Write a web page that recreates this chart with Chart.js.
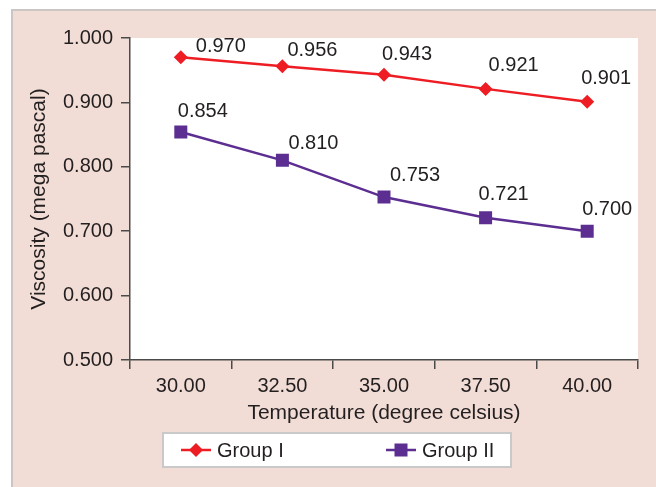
<!DOCTYPE html>
<html>
<head>
<meta charset="utf-8">
<script src="https://cdn.jsdelivr.net/npm/chart.js@4.4.0/dist/chart.umd.min.js"></script>
<style>
    html, body { margin: 0; padding: 0; background: #fff; }
    #panel {
        position: absolute; left: 11px; top: 9px; width: 700px; height: 500px;
        background: #f1ddd5; border-left: 2px solid #cbc6c4; border-top: 2px solid #cbc6c4;
    }
    #wrap { position: absolute; left: 0; top: 0; width: 656px; height: 487px; }
</style>
</head>
<body>
<div id="panel"></div>
<div id="wrap"><canvas id="visc" width="656" height="487"></canvas></div>
<script>
/* ---------- datos ---------- */
const TEMPERATURAS = ["30.00", "32.50", "35.00", "37.50", "40.00"];
const GRUPO_I = [0.970, 0.956, 0.943, 0.921, 0.901];
const GRUPO_II = [0.854, 0.810, 0.753, 0.721, 0.700];
const Y_MIN = 0.5;
const Y_MAX = 1.0;
const Y_PASO = 0.1;

/* desplazamiento de cada etiqueta respecto a su punto (px) */
const NUDGE_I = [[40, -11], [30, -16], [23, -20], [28, -23], [19, -23]];
const NUDGE_II = [[22, -21], [31, -17], [31, -22], [18, -23], [20, -22]];

const FUENTE = "'Liberation Sans', Arial, Helvetica, sans-serif";
const TEXTO = "#231f20";
const EJE = "#4a4a4a";
const ROJO = "#ee1d23";
const MORADO = "#5c2e91";

Chart.defaults.font.family = FUENTE;
Chart.defaults.font.size = 20;
Chart.defaults.color = TEXTO;

/* fondo blanco del área de trazado */
const fondoArea = {
    id: "fondoArea",
    beforeDraw(chart) {
        const { ctx, chartArea: a } = chart;
        ctx.save();
        ctx.fillStyle = "#fff";
        ctx.fillRect(a.left, a.top, a.right - a.left, a.bottom - a.top);
        ctx.restore();
    }
};

/* etiquetas de valor junto a cada punto */
const etiquetas = {
    id: "etiquetas",
    afterDatasetsDraw(chart) {
        const ctx = chart.ctx;
        const nudges = [NUDGE_I, NUDGE_II];
        ctx.save();
        ctx.font = "20px " + FUENTE;
        ctx.fillStyle = TEXTO;
        ctx.textAlign = "center";
        ctx.textBaseline = "middle";
        chart.data.datasets.forEach((ds, di) => {
            const meta = chart.getDatasetMeta(di);
            meta.data.forEach((pt, i) => {
                const [dx, dy] = nudges[di][i];
                ctx.fillText(ds.data[i].toFixed(3), pt.x + dx, pt.y + dy);
            });
        });
        ctx.restore();
    }
};

/* leyenda con marco, como en el original */
const leyenda = {
    id: "leyenda",
    afterDraw(chart) {
        const ctx = chart.ctx;
        const box = { x: 163, y: 433, w: 348, h: 34 };
        const xs = [181, 386];
        const cy = box.y + box.h / 2;
        ctx.save();
        ctx.fillStyle = "#fff";
        ctx.fillRect(box.x, box.y, box.w, box.h);
        ctx.strokeStyle = "#c9c9c9";
        ctx.lineWidth = 2;
        ctx.strokeRect(box.x, box.y, box.w, box.h);

        chart.data.datasets.forEach((ds, di) => {
            const x0 = xs[di];
            const cx = x0 + 15;
            ctx.strokeStyle = ds.borderColor;
            ctx.lineWidth = 2.5;
            ctx.beginPath();
            ctx.moveTo(x0, cy);
            ctx.lineTo(x0 + 30, cy);
            ctx.stroke();
            ctx.fillStyle = ds.backgroundColor;
            ctx.beginPath();
            if (ds.pointStyle === "rectRot") {
                const r = 7;
                ctx.moveTo(cx, cy - r);
                ctx.lineTo(cx + r, cy);
                ctx.lineTo(cx, cy + r);
                ctx.lineTo(cx - r, cy);
                ctx.closePath();
            } else {
                ctx.rect(cx - 6.5, cy - 6.5, 13, 13);
            }
            ctx.fill();
            ctx.fillStyle = TEXTO;
            ctx.font = "20px " + FUENTE;
            ctx.textAlign = "left";
            ctx.textBaseline = "middle";
            ctx.fillText(ds.label, x0 + 36, cy + 1);
        });
        ctx.restore();
    }
};

new Chart(document.getElementById("visc"), {
    type: "line",
    data: {
        labels: TEMPERATURAS,
        datasets: [
            {
                label: "Group I",
                data: GRUPO_I,
                borderColor: ROJO,
                backgroundColor: ROJO,
                borderWidth: 2.5,
                pointStyle: "rectRot",
                pointRadius: 7,
                pointBorderWidth: 0,
                tension: 0
            },
            {
                label: "Group II",
                data: GRUPO_II,
                borderColor: MORADO,
                backgroundColor: MORADO,
                borderWidth: 2.5,
                pointStyle: "rect",
                pointRadius: 9.2,
                pointBorderWidth: 0,
                tension: 0
            }
        ]
    },
    options: {
        responsive: false,
        animation: false,
        layout: { padding: { top: 38, right: 18, left: 0, bottom: 0 } },
        plugins: {
            legend: { display: false },
            tooltip: { enabled: false }
        },
        scales: {
            x: {
                offset: true,
                afterFit(s) { s.height = 127; },
                grid: { offset: true, drawOnChartArea: false, drawTicks: true, tickLength: 9, color: EJE, lineWidth: 1.5 },
                border: { color: EJE, width: 1.5 },
                ticks: { padding: 5, color: TEXTO, font: { size: 20 } },
                title: {
                    display: true,
                    text: "Temperature (degree celsius)",
                    color: TEXTO,
                    font: { size: 21 },
                    padding: { top: 0, bottom: 61 }
                }
            },
            y: {
                min: Y_MIN,
                max: Y_MAX,
                afterFit(s) { s.width = 130; },
                grid: { drawOnChartArea: false, drawTicks: true, tickLength: 9, color: EJE, lineWidth: 1.5 },
                border: { color: EJE, width: 1.5 },
                ticks: {
                    stepSize: Y_PASO,
                    padding: 8,
                    color: TEXTO,
                    font: { size: 20 },
                    callback: v => Number(v).toFixed(3)
                },
                title: {
                    display: true,
                    text: "Viscosity (mega pascal)",
                    color: TEXTO,
                    font: { size: 21 },
                    padding: { top: 27, bottom: 0 }
                }
            }
        }
    },
    plugins: [fondoArea, etiquetas, leyenda]
});
</script>
</body>
</html>
